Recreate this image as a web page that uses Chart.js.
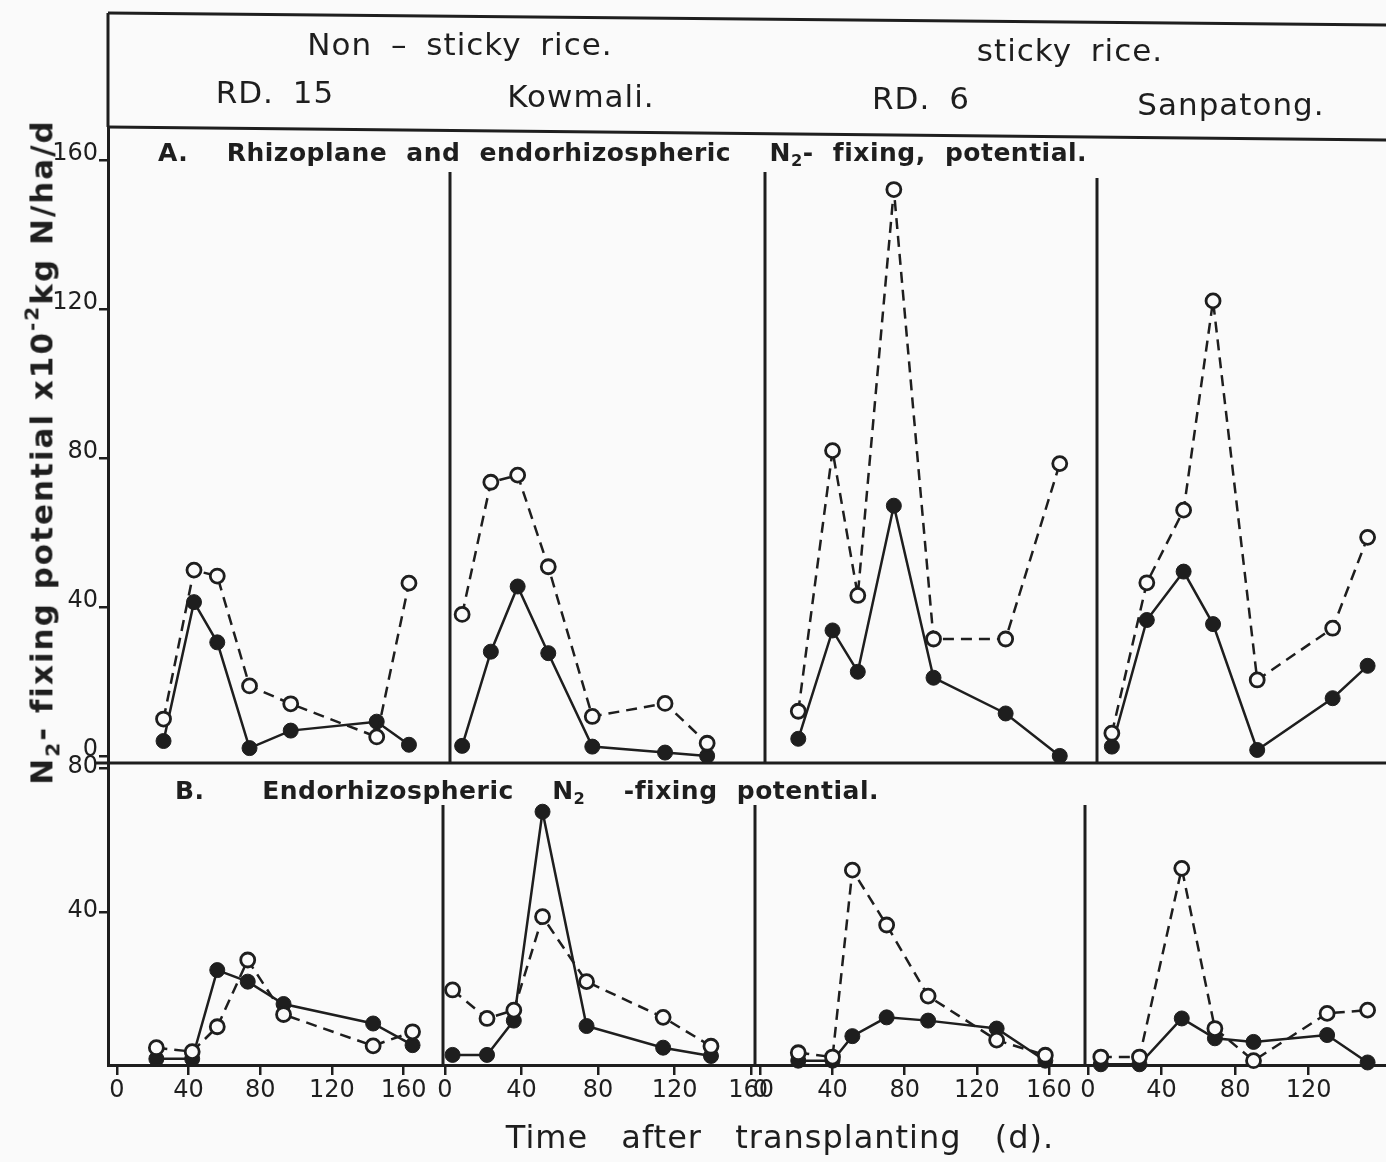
<!DOCTYPE html>
<html>
<head>
<meta charset="utf-8">
<script src="https://cdn.jsdelivr.net/npm/chart.js@4.4.1/dist/chart.umd.min.js"></script>
<style>
  body { margin: 0; background: #fafafa; }
  #wrap { position: relative; width: 1386px; height: 1162px; overflow: hidden;
          font-family: 'DejaVu Sans', sans-serif; color: #1e1e1e; }
  canvas { position: absolute; left: 0; top: 0; }
  .t { position: absolute; white-space: nowrap; transform: translate(-50%, -50%); }
  .hdr { font-size: 31px; word-spacing: 8px; letter-spacing: 1px; }
  .ptitle { position: absolute; white-space: nowrap; transform: translateY(-50%);
            font-size: 25px; font-weight: bold; word-spacing: 10px; letter-spacing: 0.5px; }
  .ytitle { font-size: 31px; font-weight: bold; letter-spacing: 2px;
            transform: translate(-50%, -50%) rotate(-90deg); }
  .xtitle { font-size: 32px; word-spacing: 22px; letter-spacing: 1px; }
  sub { font-size: 0.65em; vertical-align: -0.35em; }
  sup { font-size: 0.65em; vertical-align: 0.7em; }
</style>
</head>
<body>
<div id="wrap">
  <canvas id="fig" width="1386" height="1162"></canvas>

  <div class="t hdr" style="left:460px;top:44px">Non – sticky rice.</div>
  <div class="t hdr" style="left:1070px;top:50px">sticky rice.</div>
  <div class="t hdr" style="left:275px;top:92px">RD. 15</div>
  <div class="t hdr" style="left:581px;top:96px">Kowmali.</div>
  <div class="t hdr" style="left:921px;top:98px">RD. 6</div>
  <div class="t hdr" style="left:1231px;top:104px">Sanpatong.</div>

  <div class="ptitle" style="left:158px;top:154px">A.&nbsp; Rhizoplane and endorhizospheric&nbsp; N<sub>2</sub>- fixing, potential.</div>
  <div class="ptitle" style="left:175px;top:792px">B.&nbsp;&nbsp; Endorhizospheric&nbsp; N<sub>2</sub>&nbsp; -fixing potential.</div>

  <div class="t ytitle" style="left:42px;top:452px">N<sub>2</sub>- fixing potential x10<sup>-2</sup>kg N/ha/d</div>
  <div class="t xtitle" style="left:780px;top:1137px">Time after transplanting (d).</div>
</div>

<script>
// --- data: days after transplanting and N2-fixing potential ---
// open circles / dashed line, filled circles / solid line

// A. Rhizoplane and endorhizospheric
const rd15DaysA = [26, 43, 56, 74, 97, 145, 163];
const rd15OpenA = [9.9, 49.9, 48.3, 18.8, 14.0, 5.1, 46.4];
const rd15FilledA = [4.0, 41.3, 30.5, 2.1, 6.8, 9.2, 3.0];

const kowDaysA = [9, 24, 38, 54, 77, 115, 137];
const kowOpenA = [38.0, 73.5, 75.4, 50.8, 10.6, 14.1, 3.4];
const kowFilledA = [2.7, 28.0, 45.5, 27.6, 2.5, 0.9, 0];

const rd6DaysA = [21, 40, 54, 74, 96, 136, 166];
const rd6OpenA = [12.0, 82.0, 43.1, 152.1, 31.4, 31.4, 78.5];
const rd6FilledA = [4.6, 33.7, 22.6, 67.2, 21.0, 11.4, 0];

const sanDaysA = [13, 32, 52, 68, 92, 133, 152];
const sanOpenA = [6.1, 46.5, 66.0, 122.2, 20.4, 34.3, 58.7];
const sanFilledA = [2.5, 36.5, 49.5, 35.4, 1.6, 15.5, 24.2];

// B. Endorhizospheric
const rd15DaysB = [22, 42, 56, 73, 93, 143, 165];
const rd15OpenB = [2.6, 1.5, 8.4, 26.9, 11.8, 3.1, 7.0];
const rd15FilledB = [-0.5, -0.5, 24.1, 20.9, 14.7, 9.3, 3.3];

const kowDaysB = [4, 22, 36, 51, 74, 114, 139];
const kowOpenB = [18.6, 10.7, 13.0, 38.9, 20.9, 11.0, 3.0];
const kowFilledB = [0.6, 0.6, 10.1, 68.0, 8.6, 2.6, 0.3];

const rd6DaysB = [21, 40, 51, 70, 93, 131, 158];
const rd6OpenB = [1.2, 0, 51.8, 36.6, 16.9, 4.7, 0.5];
const rd6FilledB = [-1, -1, 5.8, 11.0, 10.1, 7.9, -1];

const sanDaysB = [7, 28, 51, 69, 90, 130, 152];
const sanOpenB = [0, 0, 52.3, 7.9, -1, 12.1, 13.0];
const sanFilledB = [-2, -2, 10.7, 5.2, 4.2, 6.1, -1.5];

// tick labels
const dayTicks = [0, 40, 80, 120, 160];
const dayTicksLast = [0, 40, 80, 120];
const rateTicksA = [0, 40, 80, 120, 160];
const rateTicksB = [40, 80];

const ink = '#1e1e1e';
const paper = '#fafafa';

function series(days, values, xId, yId, open) {
    return {
        data: days.map((d, i) => ({ x: d, y: values[i] })),
        xAxisID: xId,
        yAxisID: yId,
        borderColor: ink,
        borderWidth: 2.5,
        borderDash: open ? [11, 7] : [],
        pointRadius: open ? 7 : 7.5,
        pointBackgroundColor: open ? paper : ink,
        pointBorderColor: ink,
        pointBorderWidth: open ? 2.8 : 1,
        tension: 0,
        fill: false,
        clip: 10
    };
}

function dayAxis(order, share, min, max, ticks) {
    return {
        type: 'linear', position: 'bottom', stack: 'days', stackWeight: share, weight: order,
        min: min, max: max,
        afterBuildTicks: s => { s.ticks = ticks.map(v => ({ value: v })); },
        afterFit: s => { s.height = 97; s.paddingLeft = 0; s.paddingRight = 0; },
        grid: { drawOnChartArea: false, drawTicks: true, tickLength: 10, color: ink, lineWidth: 2.5 },
        border: { display: true, color: ink, width: 3 },
        ticks: { color: ink, font: { size: 24 }, padding: 1, maxRotation: 0, autoSkip: false }
    };
}

function rateAxis(order, share, min, max, ticks, offset) {
    return {
        type: 'linear', position: 'left', stack: 'rate', stackWeight: share, weight: order,
        min: min, max: max,
        afterBuildTicks: s => { s.ticks = ticks.map(v => ({ value: v })); },
        afterFit: s => { s.width = 108; s.paddingTop = 0; s.paddingBottom = 0; },
        grid: { drawOnChartArea: false, drawTicks: true, tickLength: 9, color: ink, lineWidth: 2.5 },
        border: { display: true, color: ink, width: 3 },
        ticks: { color: ink, font: { size: 24 }, padding: 1, labelOffset: offset, autoSkip: false }
    };
}

// header box, A/B separator and the panel dividers
const framePlugin = {
    id: 'frame',
    beforeDatasetsDraw(chart) {
        const { ctx, chartArea, scales } = chart;
        const line = (x1, y1, x2, y2) => {
            ctx.beginPath(); ctx.moveTo(x1, y1); ctx.lineTo(x2, y2); ctx.stroke();
        };
        ctx.save();
        ctx.strokeStyle = ink;
        ctx.lineWidth = 3;
        line(chartArea.left, 13, chartArea.right, 25);
        line(chartArea.left, 13, chartArea.left, chartArea.top);
        line(chartArea.left, chartArea.top, chartArea.right, chartArea.top + 13);
        line(95, scales.yA.bottom, chartArea.right, scales.yA.bottom);

        const dividers = [scales.x2.left, scales.x3.left, scales.x4.left];
        const shiftA = [7, 10, 12];
        const topA = [172, 172, 178];
        dividers.forEach((x, i) => {
            line(x + shiftA[i], topA[i], x + shiftA[i], scales.yA.bottom);
            line(x, 805, x, scales.yB.bottom);
        });
        ctx.restore();
    }
};

Chart.defaults.font.family = "'DejaVu Sans', sans-serif";
Chart.defaults.color = ink;

new Chart(document.getElementById('fig'), {
    type: 'line',
    data: {
        datasets: [
            series(rd15DaysA, rd15OpenA, 'x1', 'yA', true),
            series(rd15DaysA, rd15FilledA, 'x1', 'yA', false),
            series(kowDaysA, kowOpenA, 'x2', 'yA', true),
            series(kowDaysA, kowFilledA, 'x2', 'yA', false),
            series(rd6DaysA, rd6OpenA, 'x3', 'yA', true),
            series(rd6DaysA, rd6FilledA, 'x3', 'yA', false),
            series(sanDaysA, sanOpenA, 'x4', 'yA', true),
            series(sanDaysA, sanFilledA, 'x4', 'yA', false),
            series(rd15DaysB, rd15OpenB, 'x1', 'yB', true),
            series(rd15DaysB, rd15FilledB, 'x1', 'yB', false),
            series(kowDaysB, kowOpenB, 'x2', 'yB', true),
            series(kowDaysB, kowFilledB, 'x2', 'yB', false),
            series(rd6DaysB, rd6OpenB, 'x3', 'yB', true),
            series(rd6DaysB, rd6FilledB, 'x3', 'yB', false),
            series(sanDaysB, sanOpenB, 'x4', 'yB', true),
            series(sanDaysB, sanFilledB, 'x4', 'yB', false)
        ]
    },
    options: {
        responsive: false,
        animation: false,
        layout: { autoPadding: false, padding: { top: 127, left: 0, right: 0, bottom: 0 } },
        plugins: { legend: { display: false }, tooltip: { enabled: false } },
        scales: {
            x1: dayAxis(0, 335, -5, 182, dayTicks),
            x2: dayAxis(1, 312, -1, 162, dayTicks),
            x3: dayAxis(2, 330, -3, 180, dayTicks),
            x4: dayAxis(3, 301, -1.6, 162, dayTicksLast),
            yA: rateAxis(1, 636, -1.9, 168.9, rateTicksA, -6),
            yB: rateAxis(0, 302, -2.2, 81.5, rateTicksB, -2)
        }
    },
    plugins: [framePlugin]
});
</script>
</body>
</html>
